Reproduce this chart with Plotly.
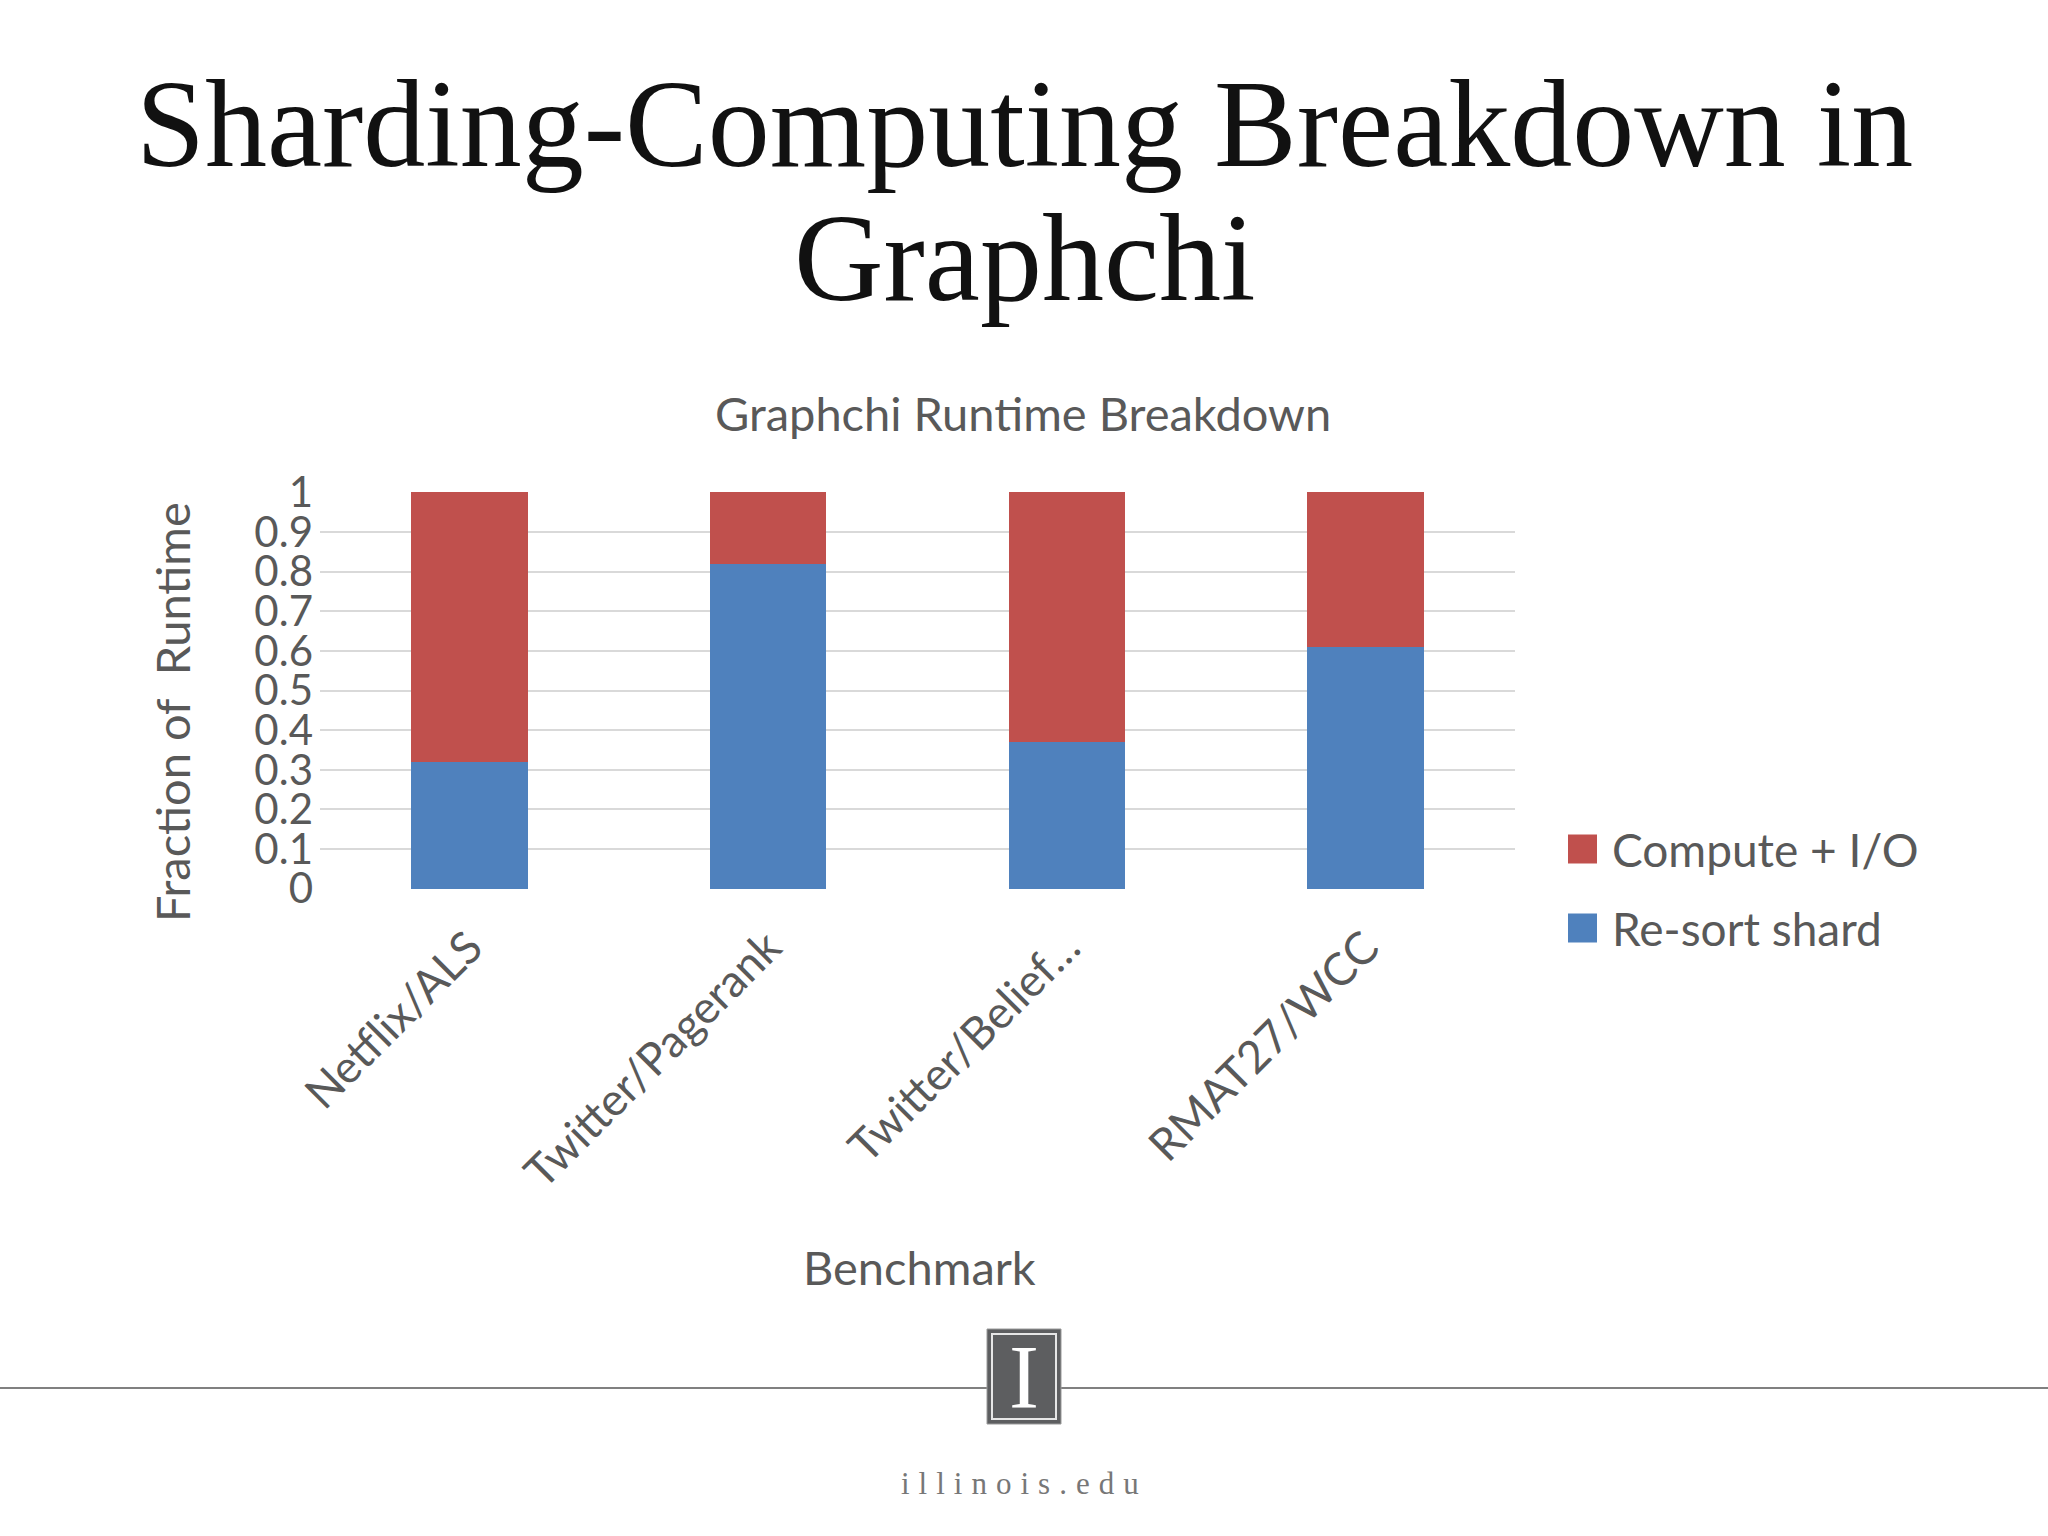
import plotly.graph_objects as go

# ---------------- data ----------------
categories = ["Netflix/ALS", "Twitter/Pagerank", "Twitter/Belief…", "RMAT27/WCC"]
resort_shard = [0.32, 0.82, 0.37, 0.61]
compute_io = [0.68, 0.18, 0.63, 0.39]
y_tickvals = [0, 0.1, 0.2, 0.3, 0.4, 0.5, 0.6, 0.7, 0.8, 0.9, 1]
y_ticktext = ["0", "0.1", "0.2", "0.3", "0.4", "0.5", "0.6", "0.7", "0.8", "0.9", "1"]
series_names = ["Compute + I/O", "Re-sort shard"]

# ---------------- layout geometry (pixels) ----------------
W, H = 2048, 1536
PL, PR, PT, PB = 320, 1515, 492, 889  # plot area


def px(x):
    return (x - PL) / (PR - PL)


def py(y):
    return (PB - y) / (PB - PT)


BLUE = "#4f81bd"
RED = "#c0504d"
GREY_TXT = "#595959"
FONT = "Lato"
SERIF = "Liberation Serif"

fig = go.Figure()
fig.add_trace(go.Bar(x=categories, y=resort_shard, name=series_names[1],
                     marker=dict(color=BLUE, line=dict(width=0)), showlegend=False))
fig.add_trace(go.Bar(x=categories, y=compute_io, name=series_names[0],
                     marker=dict(color=RED, line=dict(width=0)), showlegend=False))

fig.update_layout(
    width=W, height=H,
    margin=dict(l=PL, r=W - PR, t=PT, b=H - PB, pad=0),
    paper_bgcolor="white", plot_bgcolor="white",
    barmode="stack", bargap=0.61,
    font=dict(family=FONT, color=GREY_TXT),
    showlegend=False,
    xaxis=dict(tickangle=-45, tickfont=dict(size=45, color=GREY_TXT),
               showline=False, showgrid=False, ticks="", fixedrange=True,
               ticklabelstandoff=22),
    yaxis=dict(range=[-0.0006, 1.0006], tickvals=y_tickvals, ticktext=y_ticktext,
               tickfont=dict(size=42, color=GREY_TXT), showgrid=True,
               gridcolor="#d9d9d9", gridwidth=2, zeroline=False, showline=False,
               ticks="", ticklabelstandoff=6),
)

annotations = [
    dict(text="Sharding-Computing Breakdown in", x=px(1024), y=py(124),
         font=dict(family=SERIF, size=124, color="#111111")),
    dict(text="Graphchi", x=px(1024), y=py(258),
         font=dict(family=SERIF, size=124, color="#111111")),
    dict(text="Graphchi Runtime Breakdown", x=px(1023), y=py(413),
         font=dict(family=FONT, size=47, color=GREY_TXT)),
    dict(text="Fraction of\u00a0 Runtime", x=px(172), y=py(712), textangle=-90,
         font=dict(family=FONT, size=47, color=GREY_TXT)),
    dict(text="Benchmark", x=px(919), y=py(1267),
         font=dict(family=FONT, size=47, color=GREY_TXT)),
    dict(text="I", x=px(1024), y=py(1377),
         font=dict(family=SERIF, size=90, color="white")),
    dict(text='<span style="letter-spacing:9px">illinois.edu</span>',
         x=px(1024), y=py(1483),
         font=dict(family=SERIF, size=31, color="#777777")),
]
# manual legend (large square swatches as in the reference)
legend_rows = [(series_names[0], RED, 849), (series_names[1], BLUE, 928)]
shapes = []
for name, col, yc in legend_rows:
    annotations.append(dict(text=name, x=px(1610), y=py(yc), xanchor="left",
                            font=dict(family=FONT, size=46, color=GREY_TXT)))
    shapes.append(dict(type="rect", x0=px(1568), x1=px(1597),
                       y0=py(yc - 14.5), y1=py(yc + 14.5),
                       fillcolor=col, line=dict(width=0)))

for a in annotations:
    a.setdefault("xanchor", "center")
    a.update(xref="paper", yref="paper", showarrow=False, yanchor="middle")
fig.update_layout(annotations=annotations)

shapes += [
    dict(type="line", x0=px(0), x1=px(W), y0=py(1388), y1=py(1388),
         line=dict(color="#808080", width=2)),
    dict(type="rect", x0=px(987), x1=px(1061), y0=py(1329), y1=py(1424),
         fillcolor="#5d5e60", line=dict(color="#9a9a9a", width=1)),
    dict(type="rect", x0=px(992), x1=px(1056), y0=py(1334), y1=py(1419),
         fillcolor="rgba(0,0,0,0)", line=dict(color="#e6e6e6", width=2)),
]
for s in shapes:
    s.update(xref="paper", yref="paper")
fig.update_layout(shapes=shapes)

fig.write_html("out.html", config={"displayModeBar": False},
               post_script="document.body.style.margin='0px';")
